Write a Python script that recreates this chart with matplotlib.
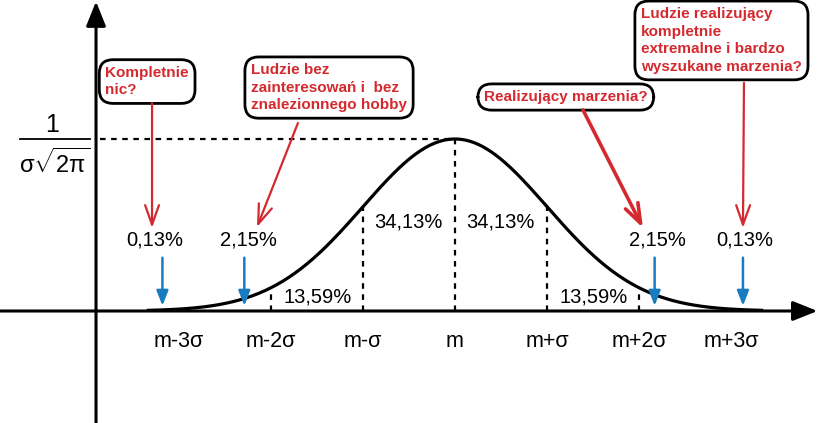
import numpy as np
import matplotlib
matplotlib.use("Agg")
from matplotlib import pyplot as plt

plt.rcParams['font.family'] = ['Liberation Sans', 'DejaVu Sans']
plt.rcParams['mathtext.fontset'] = 'custom'
plt.rcParams['mathtext.rm'] = 'Liberation Sans'
plt.rcParams['mathtext.it'] = 'Liberation Sans'
plt.rcParams['mathtext.bf'] = 'Liberation Sans:bold'

# data (x in units of sigma, y relative to the peak)
sigma_pos = [-3, -2, -1, 0, 1, 2, 3]
tick_labels = ["m-3σ", "m-2σ", "m-σ", "m", "m+σ", "m+2σ", "m+3σ"]
share_pos = [-3.26, -2.25, -1.49, -0.51, 0.49, 1.51, 2.196, 3.15]
share_y = [0.413, 0.413, 0.081, 0.517, 0.517, 0.081, 0.413, 0.413]
shares = ["0,13%", "2,15%", "13,59%", "34,13%", "34,13%", "13,59%", "2,15%", "0,13%"]
blue_x = [-3.18, -2.29, 2.17, 3.13]

notes = ["Kompletnie\nnic?",
         "Ludzie bez\nzainteresowań i  bez\nznalezionnego hobby",
         "Realizujący marzenia?",
         "Ludzie realizujący\nkompletnie\nextremalne i bardzo\nwyszukane marzenia?"]
note_xy = [(-3.80, 1.334), (-2.217, 1.299), (0.315, 1.244), (2.022, 1.573)]
note_start = [(-3.293, 1.209), (-1.707, 1.093), (1.391, 1.169), (3.141, 1.326)]
note_end = [(-3.293, 0.483), (-2.152, 0.488), (2.043, 0.483), (3.130, 0.483)]
note_lw = [1.6, 1.6, 2.6, 1.6]

red = "#d42a2f"
blue = "#1a7cc0"

fig = plt.figure(figsize=(8.2, 4.23), dpi=100)
ax = fig.add_axes([0, 0, 1, 1])
ax.set_xlim(-455 / 92, 365 / 92)
ax.set_ylim(-112 / 172, 311 / 172)
ax.axis('off')

# axes with arrows
ax.annotate("", xy=(3.94, 0), xytext=(-4.95, 0),
            arrowprops=dict(arrowstyle="-|>,head_length=1.5,head_width=0.6", color="black", lw=2.2,
                            shrinkA=0, shrinkB=0))
ax.annotate("", xy=(-3.902, 1.80), xytext=(-3.902, -0.66),
            arrowprops=dict(arrowstyle="-|>,head_length=1.5,head_width=0.6", color="black", lw=2.2,
                            shrinkA=0, shrinkB=0))

# curve
x = np.linspace(-3.35, 3.35, 400)
y = np.exp(-x ** 2 / 2)
ax.plot(x, y, color="black", lw=2.3, solid_capstyle="butt")

# dashed guides
for s in sigma_pos:
    ax.plot([s, s], [0, np.exp(-s ** 2 / 2)], color="black", lw=1.6, ls=(0, (2.5, 2.5)))
ax.plot([-3.86, 0], [1, 1], color="black", lw=1.6, ls=(0, (2.5, 2.5)))

# y label 1 / sigma sqrt(2 pi)
ax.text(-4.38, 1.081, "1", fontsize=18, ha="center", va="center")
ax.plot([-4.728, -3.967], [1, 1], color="black", lw=1.3)
ax.text(-4.35, 0.862, r"$σ\sqrt{2π}$", fontsize=17, ha="center", va="center")

# tick labels
for s, lab in zip(sigma_pos, tick_labels):
    ax.text(s, -0.18, lab, fontsize=15.5, ha="center", va="center")

# percentages
for px, py, lab in zip(share_pos, share_y, shares):
    ax.text(px, py, lab, fontsize=14.5, ha="center", va="center")

# blue arrows
for bx in blue_x:
    ax.annotate("", xy=(bx, 0.03), xytext=(bx, 0.31),
                arrowprops=dict(arrowstyle="-|>,head_length=0.9,head_width=0.35", color=blue, lw=1.8,
                                shrinkA=0, shrinkB=0))

# red notes
for txt, (tx, ty), st, en, lw in zip(notes, note_xy, note_start, note_end, note_lw):
    ax.text(tx, ty, txt, fontsize=11, fontweight="bold", color=red, ha="left", va="center",
            family="Liberation Sans", linespacing=1.32,
            bbox=dict(boxstyle="round,pad=0.4,rounding_size=0.9", fc="white", ec="black", lw=2.0))
    ax.annotate("", xy=en, xytext=st,
                arrowprops=dict(arrowstyle="->,head_length=1.4,head_width=0.5", color=red, lw=lw,
                                shrinkA=0, shrinkB=0))

fig.savefig("out.png", dpi=100)
